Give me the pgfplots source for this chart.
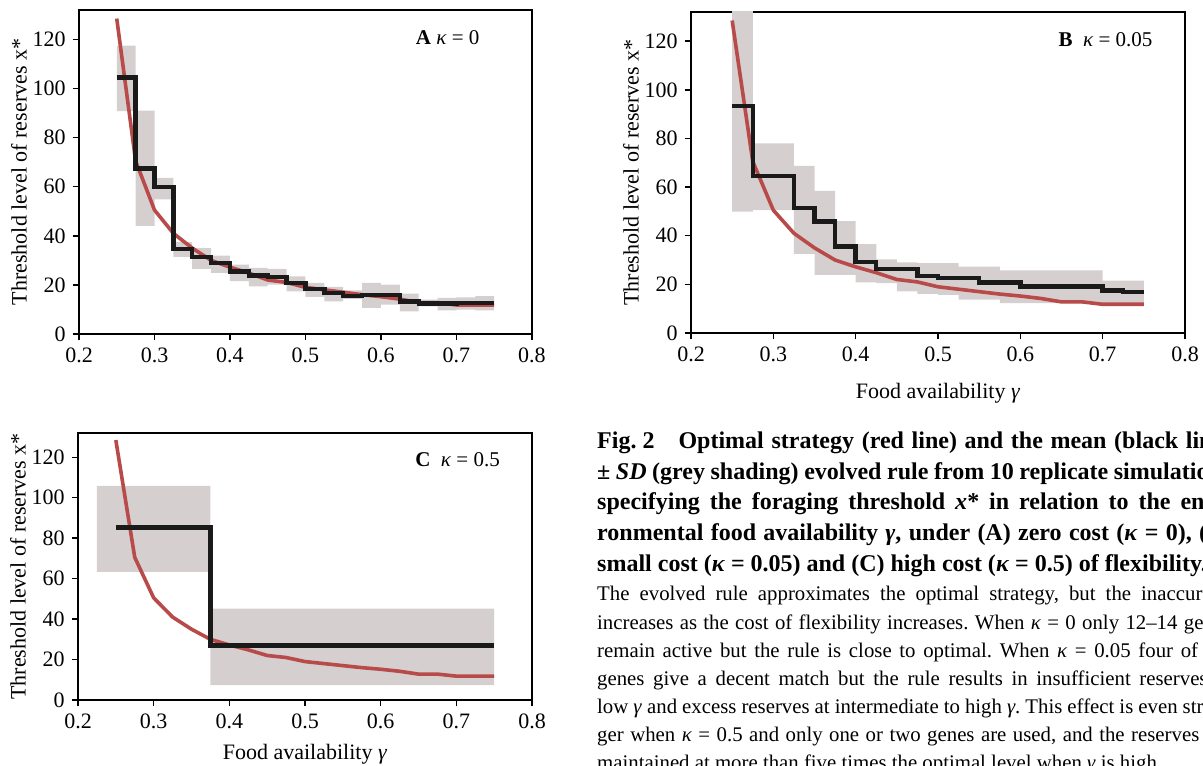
\documentclass[border=0pt]{standalone}
\usepackage{fontspec}
\setmainfont{Liberation Serif}
\usepackage{pgfplots}
\usepackage{pgfplotstable}
\usepgfplotslibrary{fillbetween}
\pgfplotsset{compat=1.18}

\definecolor{optred}{HTML}{B84A4A}
\definecolor{sdgrey}{HTML}{D5CFCF}
\definecolor{rulebk}{HTML}{1A1A1A}

% optimal strategy (red line), same in all panels
\pgfplotstableread{
x     opt
0.25  128.5
0.275 70.5
0.3   50.5
0.325 41
0.35  35
0.375 30
0.4   27.2
0.425 24.8
0.45  22
0.475 21
0.5   19
0.525 18
0.55  17
0.575 16
0.6   15.2
0.625 14.2
0.65  12.8
0.675 12.8
0.7   11.8
0.725 11.8
0.75  11.8
}\optimal

% evolved rule, mean and mean +- SD
\pgfplotstableread{
x     mean  lo    hi
0.25  104.5 90.8  117.5
0.275 67.5  44    91
0.3   60    54.8  63.6
0.325 34.6  31.4  37.4
0.35  31.4  26.5  35
0.375 28.9  24.9  31.9
0.4   25.5  21.5  28.3
0.425 23.8  19.4  26.9
0.45  23.2  20.1  26.5
0.475 20.8  17.4  23.5
0.5   18.3  15.1  20.8
0.525 16.7  13.3  19.2
0.55  15.6  14.3  17.8
0.575 16    10.6  20.8
0.6   16    12    20.1
0.625 13.3  9.2   16.4
0.65  12.4  11.3  14
0.675 12.4  9.6   14.7
0.7   12.6  9.9   14.9
0.725 12.6  9.6   15.4
0.75  12.6  9.6   15.4
}\ruleA

\pgfplotstableread{
x     mean  lo    hi
0.25  93.3  49.9  140
0.275 64.6  50.5  78
0.3   64.6  50.5  78
0.325 51.3  32.5  68.7
0.35  45.8  23.9  58.4
0.375 35.5  23.9  46
0.4   29.1  20.8  36.5
0.425 26.2  20.5  30.3
0.45  26.2  17.1  29
0.475 23.5  16.1  28.7
0.5   22.5  15.7  28.7
0.525 22.5  13.7  27.3
0.55  20.8  13.7  27.3
0.575 20.8  12.3  25.7
0.6   19.1  12.3  25.7
0.625 19.1  12.3  25.7
0.65  19.1  12.3  25.7
0.675 19.1  12.3  25.7
0.7   17.5  12    21.5
0.725 16.8  12    21.5
0.75  16.8  12    21.5
}\ruleB

\pgfplotstableread{
x     mean
0.25  85.2
0.375 27
0.75  27
}\ruleC

\pgfplotstableread{
x     lo    hi
0.225 63.3  105.9
0.375 7.4   45.2
0.75  7.4   45.2
}\sdC

\pgfplotsset{
  panel/.style={
    anchor=south west,
    scale only axis,
    xmin=0.2, xmax=0.8, ymin=0, ymax=132,
    xtick={0.2,0.3,0.4,0.5,0.6,0.7,0.8},
    xticklabels={0.2,0.3,0.4,0.5,0.6,0.7,0.8},
    ytick={0,20,40,60,80,100,120},
    xtick pos=left, ytick pos=left,
    tick align=outside, major tick length=3.2pt,
    axis line style={line width=0.7pt},
    every tick/.style={black, line width=0.7pt},
    tick label style={font=\fontsize{11}{13}\selectfont},
    /pgf/number format/assume math mode=true,
    label style={font=\fontsize{11}{13}\selectfont},
    ylabel={Threshold level of reserves x*},
    ylabel style={yshift=-4pt},
  },
  optline/.style={optred, line width=1.8pt, line join=round},
  ruleline/.style={rulebk, line width=2.2pt, const plot},
}
\tikzset{panellabel/.style={anchor=east, inner sep=0pt, font=\fontsize{10.5}{12}\selectfont}}

\newcommand{\capline}[3]{%
  \node[anchor=base west, inner sep=0pt] at (298.4pt,#1) {\makebox[317pt][#2]{#3}};}

\begin{document}
\begin{tikzpicture}

% ---- A ----
\begin{axis}[panel, at={(39.5pt,215.5pt)}, width=226.5pt, height=162pt]
  \addplot[draw=none, const plot, name path=hiA] table[x=x, y=hi] {\ruleA};
  \addplot[draw=none, const plot, name path=loA] table[x=x, y=lo] {\ruleA};
  \addplot[sdgrey] fill between[of=hiA and loA];
  \addplot[optline] table[x=x, y=opt] {\optimal};
  \addplot[ruleline] table[x=x, y=mean] {\ruleA};
  \node[panellabel] at (axis cs:0.731,120.8) {\textbf{A} \textit{κ} = 0};
\end{axis}

% ---- B ----
\begin{axis}[panel, at={(345.5pt,216pt)}, width=247pt, height=160.5pt,
  xlabel={Food availability \textit{γ}}, xlabel style={yshift=-4pt}]
  \addplot[draw=none, const plot, name path=hiB] table[x=x, y=hi] {\ruleB};
  \addplot[draw=none, const plot, name path=loB] table[x=x, y=lo] {\ruleB};
  \addplot[sdgrey] fill between[of=hiB and loB];
  \addplot[optline] table[x=x, y=opt] {\optimal};
  \addplot[ruleline] table[x=x, y=mean] {\ruleB};
  \node[panellabel] at (axis cs:0.761,120.5) {\textbf{B}\ \ \textit{κ} = 0.05};
\end{axis}

% ---- C ----
\begin{axis}[panel, at={(39pt,32.5pt)}, width=227pt, height=133.5pt,
  xlabel={Food availability \textit{γ}}, xlabel style={yshift=-1pt}]
  \addplot[draw=none, const plot, name path=hiC] table[x=x, y=hi] {\sdC};
  \addplot[draw=none, const plot, name path=loC] table[x=x, y=lo] {\sdC};
  \addplot[sdgrey] fill between[of=hiC and loC];
  \addplot[optline] table[x=x, y=opt] {\optimal};
  \addplot[ruleline] table[x=x, y=mean] {\ruleC};
  \node[panellabel] at (axis cs:0.758,119) {\textbf{C}\ \ \textit{κ} = 0.5};
\end{axis}

% ---- caption ----
\frenchspacing
\begingroup
\fontsize{12}{14}\selectfont\bfseries
\capline{158.35pt}{s}{\mbox{Fig. 2}\quad Optimal strategy (red line) and the mean (black line)}
\capline{142.85pt}{s}{± \textit{SD} (grey shading) evolved rule from 10 replicate simulations}
\capline{127.5pt}{s}{specifying the foraging threshold \textit{x}* in relation to the envi-}
\capline{112.15pt}{s}{ronmental food availability \textit{γ}, under (A) zero cost (\textit{κ} = 0), (B)}
\capline{96.65pt}{l}{small cost (\textit{κ} = 0.05) and (C) high cost (\textit{κ} = 0.5) of flexibility.}
\endgroup
\begingroup
\fontsize{10.4}{12}\selectfont
\capline{82pt}{s}{The evolved rule approximates the optimal strategy, but the inaccuracy}
\capline{67.85pt}{s}{increases as the cost of flexibility increases. When \textit{κ} = 0 only 12–14 genes}
\capline{53.85pt}{s}{remain active but the rule is close to optimal. When \textit{κ} = 0.05 four of the}
\capline{39.65pt}{s}{genes give a decent match but the rule results in insufficient reserves at}
\capline{25.85pt}{s}{low \textit{γ} and excess reserves at intermediate to high \textit{γ}. This effect is even stron-}
\capline{11.65pt}{s}{ger when \textit{κ} = 0.5 and only one or two genes are used, and the reserves are}
\capline{-2.15pt}{l}{maintained at more than five times the optimal level when \textit{γ} is high.}
\endgroup

\pgfresetboundingbox
\path[use as bounding box] (0,0) rectangle (601.5pt,382.5pt);
\end{tikzpicture}
\end{document}
